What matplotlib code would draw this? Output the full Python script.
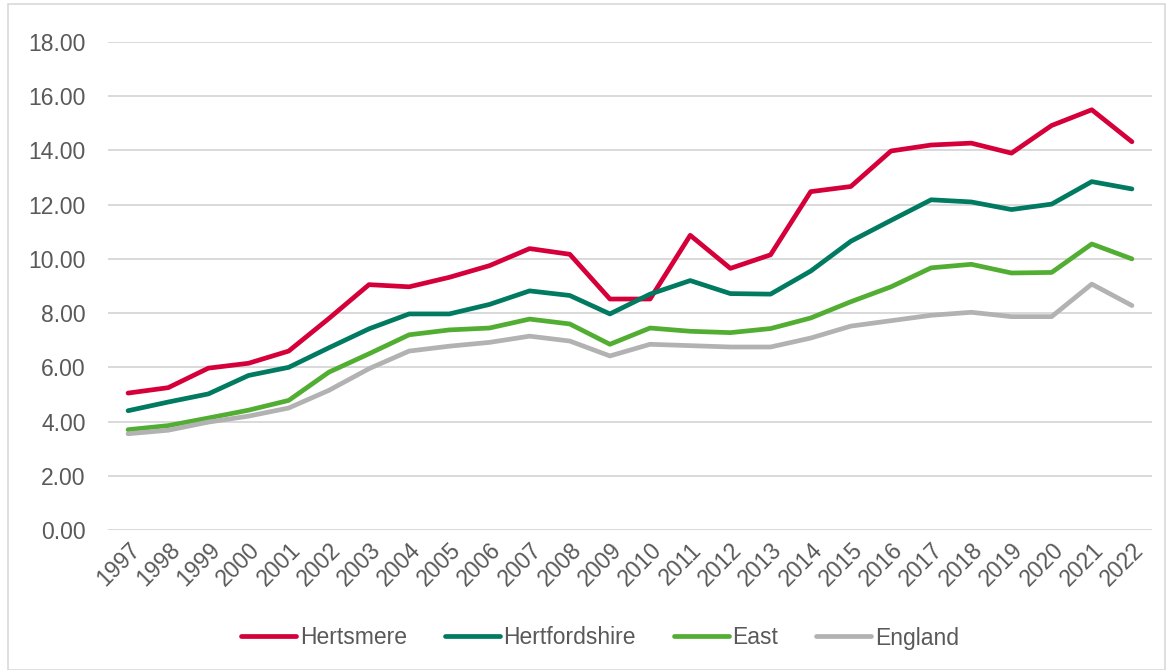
import matplotlib
matplotlib.use("Agg")
import matplotlib.pyplot as plt
from matplotlib.patches import Rectangle

years = [str(y) for y in range(1997, 2023)]
hertsmere = [5.05, 5.25, 5.97, 6.15, 6.60, 7.80, 9.05, 8.97, 9.32, 9.75, 10.38, 10.17, 8.52,
             8.52, 10.87, 9.65, 10.15, 12.48, 12.67, 13.98, 14.20, 14.27, 13.90, 14.92, 15.50, 14.32]
hertfordshire = [4.40, 4.72, 5.02, 5.70, 6.00, 6.72, 7.42, 7.97, 7.97, 8.32, 8.82, 8.65, 7.97,
                 8.70, 9.20, 8.72, 8.70, 9.55, 10.65, 11.42, 12.18, 12.10, 11.82, 12.02, 12.85, 12.58]
east = [3.70, 3.85, 4.13, 4.42, 4.78, 5.82, 6.50, 7.20, 7.38, 7.45, 7.78, 7.60, 6.85,
        7.45, 7.33, 7.28, 7.43, 7.82, 8.42, 8.97, 9.67, 9.80, 9.48, 9.50, 10.55, 10.00]
england = [3.55, 3.68, 3.98, 4.20, 4.50, 5.15, 5.95, 6.60, 6.78, 6.92, 7.15, 6.97, 6.42,
           6.85, 6.80, 6.75, 6.75, 7.08, 7.52, 7.72, 7.92, 8.03, 7.87, 7.87, 9.07, 8.28]

series = [("Hertsmere", hertsmere, "#D5003A"),
          ("Hertfordshire", hertfordshire, "#007A61"),
          ("East", east, "#52AE32"),
          ("England", england, "#B2B2B2")]

plt.rcParams['font.family'] = ['Liberation Sans', 'DejaVu Sans']
W, H = 1167, 670
fig = plt.figure(figsize=(W / 100, H / 100), dpi=100)
ax = fig.add_axes([108 / W, 1 - 530 / H, (1152 - 108) / W, (530 - 42) / H])

x = list(range(len(years)))
for name, vals, col in series:
    ax.plot(x, vals, color=col, lw=3.4, label=name, solid_capstyle='round', solid_joinstyle='round')

ax.set_xlim(-0.5, len(years) - 0.5)
ax.set_ylim(0, 18)
ax.set_yticks([0, 2, 4, 6, 8, 10, 12, 14, 16, 18])
ax.set_yticklabels([f"{v:.2f}" for v in ax.get_yticks()])
ax.set_xticks(x)
ax.set_xticklabels(years, rotation=45, ha='right', rotation_mode='anchor')
ax.tick_params(axis='both', length=0, labelsize=16.5, colors='#595959')
ax.tick_params(axis='y', pad=16)
ax.tick_params(axis='x', pad=6)
ax.grid(axis='y', color='#D9D9D9', lw=1.4)
ax.set_axisbelow(True)
for s in ax.spines.values():
    s.set_visible(False)

leg = fig.legend(loc='center', bbox_to_anchor=(600 / W, 1 - 638 / H), ncol=4, frameon=False,
                 fontsize=16.5, handlelength=2.4, handletextpad=0.17, columnspacing=1.65)
for t in leg.get_texts():
    t.set_color('#595959')

fig.patches.append(Rectangle((8 / W, 0.0), (W - 10) / W, 1 - 4 / H, transform=fig.transFigure,
                             fill=False, edgecolor='#D9D9D9', lw=1.2))

fig.savefig("out.png", dpi=100)
